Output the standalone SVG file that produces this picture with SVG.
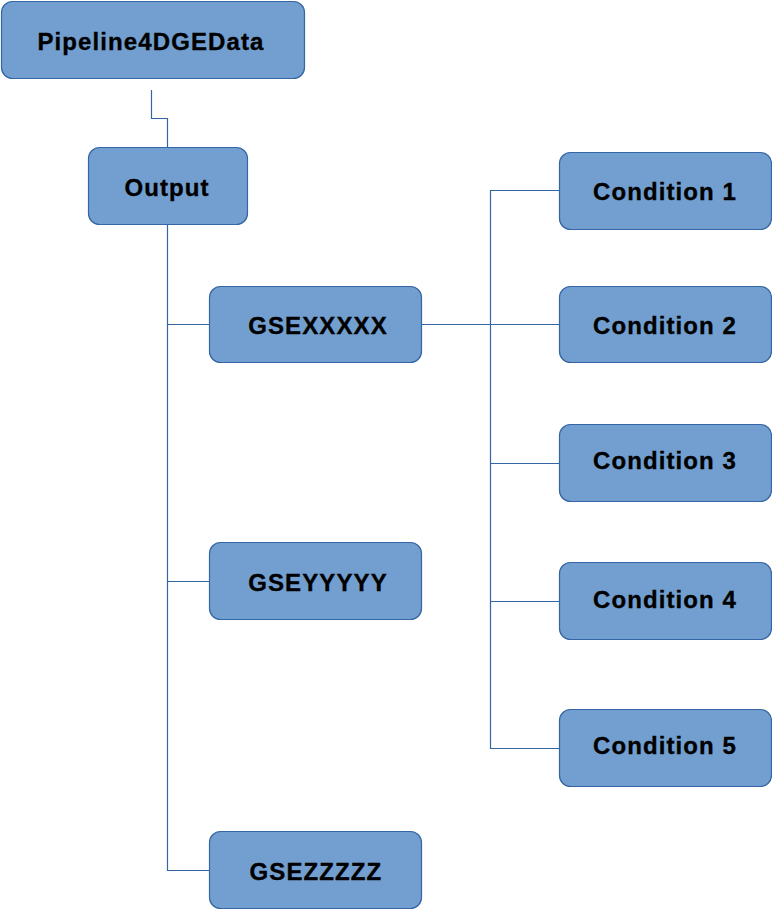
<svg xmlns="http://www.w3.org/2000/svg" width="772" height="910" viewBox="0 0 772 910">
<style>
.box{fill:#729fcf;stroke:#3465a4;stroke-width:1.2}
.lbl{font-family:"Liberation Sans",Arial,sans-serif;font-weight:bold;font-size:24px;letter-spacing:1.1px;fill:#000;stroke:#000;stroke-width:0.35;text-anchor:middle}
.c{fill:none;stroke:#3465a4;stroke-width:1.2}
</style>
<rect width="772" height="910" fill="#fff"/>
<g id="connectors">
<polyline class="c" points="151.5,90 151.5,118.5 167.5,118.5 167.5,147"/>
<polyline class="c" points="167.5,224 167.5,870.5 209,870.5"/>
<line class="c" x1="167.5" y1="324.5" x2="209" y2="324.5"/>
<line class="c" x1="167.5" y1="581.5" x2="209" y2="581.5"/>
<line class="c" x1="421" y1="324.5" x2="559" y2="324.5"/>
<polyline class="c" points="559,190.5 490.5,190.5 490.5,748.5 559,748.5"/>
<line class="c" x1="490.5" y1="463.5" x2="559" y2="463.5"/>
<line class="c" x1="490.5" y1="601.5" x2="559" y2="601.5"/>
</g>
<g id="pipeline"><rect class="box" x="1.5" y="1.5" width="303" height="77" rx="11"/><text class="lbl" x="151" y="50">Pipeline4DGEData</text></g>
<g id="output"><rect class="box" x="88.5" y="147.5" width="159" height="77" rx="11"/><text class="lbl" x="167" y="196">Output</text></g>
<g id="gsex"><rect class="box" x="209.5" y="286.5" width="212" height="76" rx="11"/><text class="lbl" x="318" y="334">GSEXXXXX</text></g>
<g id="gsey"><rect class="box" x="209.5" y="542.5" width="212" height="77" rx="11"/><text class="lbl" x="318" y="591">GSEYYYYY</text></g>
<g id="gsez"><rect class="box" x="209.5" y="831.5" width="212" height="77" rx="11"/><text class="lbl" x="316" y="880">GSEZZZZZ</text></g>
<g id="cond1"><rect class="box" x="559.5" y="152.5" width="212" height="77" rx="11"/><text class="lbl" x="665" y="199.5">Condition 1</text></g>
<g id="cond2"><rect class="box" x="559.5" y="286.5" width="212" height="76" rx="11"/><text class="lbl" x="665" y="334">Condition 2</text></g>
<g id="cond3"><rect class="box" x="559.5" y="424.5" width="212" height="77" rx="11"/><text class="lbl" x="665" y="469">Condition 3</text></g>
<g id="cond4"><rect class="box" x="559.5" y="562.5" width="212" height="77" rx="11"/><text class="lbl" x="665" y="608">Condition 4</text></g>
<g id="cond5"><rect class="box" x="559.5" y="709.5" width="212" height="77" rx="11"/><text class="lbl" x="665" y="754">Condition 5</text></g>
</svg>
